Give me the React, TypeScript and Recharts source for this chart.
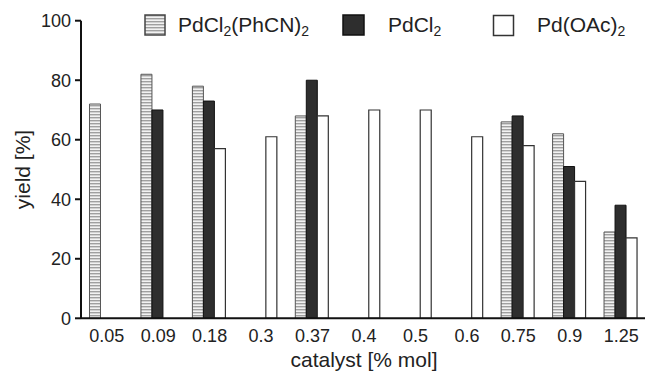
import React from 'react';
import { BarChart, Bar, XAxis, YAxis, Customized } from 'recharts';

const categories = ['0.05', '0.09', '0.18', '0.3', '0.37', '0.4', '0.5', '0.6', '0.75', '0.9', '1.25'];
const phcnYield = [72, 82, 78, null, 68, null, null, null, 66, 62, 29];
const pdcl2Yield = [null, 70, 73, null, 80, null, null, null, 68, 51, 38];
const oacYield = [null, null, 57, 61, 68, 70, 70, 61, 58, 46, 27];
const yTicks = [0, 20, 40, 60, 80, 100];

const data = categories.map((c, i) => ({
  cat: c,
  phcn: phcnYield[i],
  pdcl2: pdcl2Yield[i],
  oac: oacYield[i],
}));

const FONT = '"Liberation Sans", Arial, sans-serif';

// legend drawn straight into the svg so it doesn't push the plot around
function TopLegend() {
  const sub = { fontSize: 14 };
  return (
    <g fontFamily={FONT} fontSize={21} fill="#222">
      <rect x={145} y={15} width={20} height={20} fill="url(#hatch)" stroke="#444" strokeWidth={1.5} />
      <text x={178} y={31.5}>
        PdCl<tspan dy={4} style={sub}>2</tspan>
        <tspan dy={-4}>(PhCN)</tspan>
        <tspan dy={4} style={sub}>2</tspan>
      </text>
      <rect x={343} y={15} width={21} height={20} fill="#2e2e2e" stroke="#111" strokeWidth={1.5} />
      <text x={388} y={31.5}>
        PdCl<tspan dy={4} style={sub}>2</tspan>
      </text>
      <rect x={493.5} y={15.5} width={20} height={20} fill="#fff" stroke="#333" strokeWidth={1.5} />
      <text x={537} y={31.5}>
        Pd(OAc)<tspan dy={4} style={sub}>2</tspan>
      </text>
    </g>
  );
}

function YLabel(props: any) {
  const vb = props.viewBox;
  const x = vb.x + 22;
  const y = vb.y + vb.height / 2;
  return (
    <text x={x} y={y} transform={`rotate(-90, ${x}, ${y})`} textAnchor="middle" dominantBaseline="central"
      fontFamily={FONT} fontSize={21} fill="#222">
      yield [%]
    </text>
  );
}

export default function App() {
  return (
    <div style={{ position: 'absolute', left: 0, top: 0, background: '#fff' }}>
      <BarChart
        width={648}
        height={374}
        data={data}
        margin={{ top: 20.7, right: 1, left: 0, bottom: 0 }}
        barCategoryGap="16.5%"
        barGap={0}
      >
        <defs>
          <pattern id="hatch" patternUnits="userSpaceOnUse" width={4} height={3}>
            <rect x={0} y={0} width={4} height={3} fill="#f2f2f2" />
            <rect x={0} y={0} width={4} height={1.4} fill="#a0a0a0" />
          </pattern>
        </defs>
        <XAxis
          dataKey="cat"
          height={55.7}
          tickSize={0}
          tickMargin={11}
          axisLine={{ stroke: '#111', strokeWidth: 2 }}
          tick={{ fontFamily: FONT, fontSize: 18, fill: '#222' }}
          label={{ value: 'catalyst [% mol]', position: 'insideBottom', offset: 7, fontFamily: FONT, fontSize: 21, fill: '#222' }}
        />
        <YAxis
          domain={[0, 100]}
          ticks={yTicks}
          width={81}
          tickSize={6}
          tickMargin={4}
          axisLine={{ stroke: '#111', strokeWidth: 2 }}
          tickLine={{ stroke: '#111', strokeWidth: 2 }}
          tick={{ fontFamily: FONT, fontSize: 18, fill: '#222' }}
          label={<YLabel />}
        />
        <Bar dataKey="phcn" fill="url(#hatch)" stroke="#555" strokeWidth={1} isAnimationActive={false} />
        <Bar dataKey="pdcl2" fill="#2e2e2e" stroke="#111" strokeWidth={1} isAnimationActive={false} />
        <Bar dataKey="oac" fill="#fff" stroke="#333" strokeWidth={1.2} isAnimationActive={false} />
        <Customized component={TopLegend} />
      </BarChart>
    </div>
  );
}
